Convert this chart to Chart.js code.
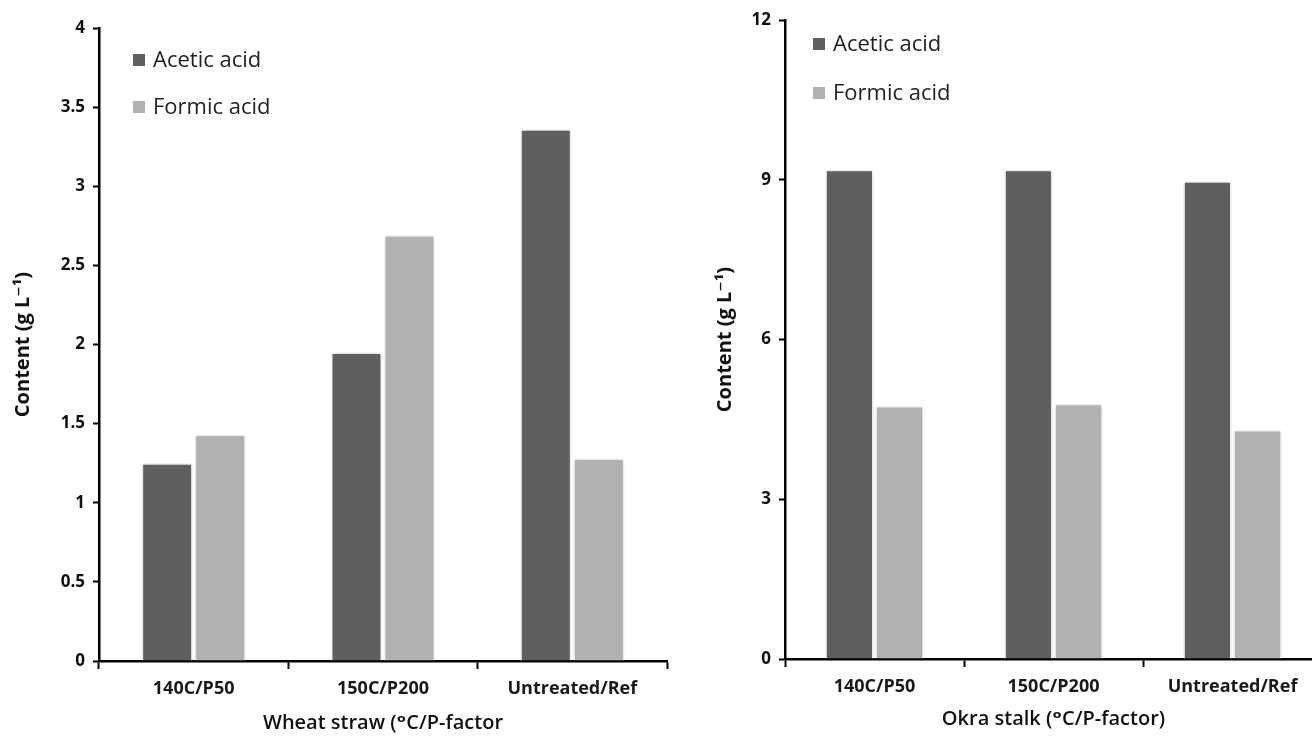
<!DOCTYPE html>
<html>
<head>
<meta charset="utf-8">
<script src="https://cdn.jsdelivr.net/npm/chart.js@4.4.1/dist/chart.umd.min.js"></script>
<style>
  html, body { margin: 0; padding: 0; background: #fff; overflow: hidden; }
  body { width: 1312px; height: 739px; position: relative; }
  .panel { position: absolute; top: 0; height: 739px; }
  #wheat-panel { left: 0; width: 690px; }
  #okra-panel { left: 700px; width: 640px; }
</style>
</head>
<body>
<div class="panel" id="wheat-panel"><canvas id="wheat-chart"></canvas></div>
<div class="panel" id="okra-panel"><canvas id="okra-chart"></canvas></div>
<script>
const wheatCanvas = document.getElementById("wheat-chart");
const okraCanvas = document.getElementById("okra-chart");

// treatments on the x axis (same for both panels)
const treatments = ["140C/P50", "150C/P200", "Untreated/Ref"];

// wheat straw, g/L
const wheatAcetic = [1.25, 1.95, 3.36];
const wheatFormic = [1.43, 2.69, 1.28];

// okra stalk, g/L
const okraAcetic = [9.19, 9.19, 8.97];
const okraFormic = [4.75, 4.79, 4.30];

// y axis ranges
const wheatMax = 4, wheatStep = 0.5;
const okraMax = 12, okraStep = 3;

const FONT = '"Open Sans", "DejaVu Sans", sans-serif';
const DARK = '#5f5f5f';
const LIGHT = '#b1b1b1';

Chart.defaults.font.family = FONT;
Chart.defaults.color = '#111';


// small key in the top left corner of the plot
const acidKey = {
  id: 'acidKey',
  afterDraw(chart, args, opts) {
    const ctx = chart.ctx;
    const area = chart.chartArea;
    ctx.save();
    ctx.font = '22px ' + FONT;
    ctx.textBaseline = 'middle';
    chart.data.datasets.forEach((ds, i) => {
      const x = area.left + opts.left;
      const y = area.top + opts.top + i * opts.gap;
      ctx.fillStyle = ds.backgroundColor;
      ctx.fillRect(x, y - 6, 12, 12);
      ctx.fillStyle = '#222';
      ctx.fillText(ds.label, x + 20, y + 1);
    });
    ctx.restore();
  }
};

// soft grey halo around the bars
const barHalo = {
  id: 'barHalo',
  beforeDatasetsDraw(chart) {
    const ctx = chart.ctx;
    ctx.save();
    ctx.shadowColor = 'rgba(0,0,0,0.22)';
    ctx.shadowBlur = 4;
  },
  afterDatasetsDraw(chart) {
    chart.ctx.restore();
  }
};


const makeChart = (canvas, p) => new Chart(canvas, {
  type: 'bar',
  data: {
    labels: treatments,
    datasets: [
      { label: 'Acetic acid', data: p.acetic, backgroundColor: DARK },
      { label: 'Formic acid', data: p.formic, backgroundColor: LIGHT }
    ].map(ds => Object.assign(ds, {
      borderColor: '#ffffff',
      borderWidth: 1.5,
      categoryPercentage: 0.56,
      barPercentage: 0.96
    }))
  },
  options: {
    responsive: true,
    maintainAspectRatio: false,
    animation: false,
    layout: { padding: { left: 0, right: p.padRight, top: p.padTop, bottom: 0 } },
    scales: {
      x: {
        offset: true,
        grid: { offset: true, drawOnChartArea: false, drawTicks: true, tickLength: 8, tickColor: '#000', tickWidth: 2 },
        border: { display: true, color: '#000', width: 2.5 },
        ticks: { color: '#1a1a1a', padding: 9, font: { size: 18, weight: 'bold' } },
        title: { display: true, text: p.xTitle, color: '#111', padding: { top: 0, bottom: p.xTitlePad }, font: { size: 20, weight: '600' } },
        afterFit: s => { s.height = p.xHeight; }
      },
      y: {
        min: 0,
        max: p.max,
        ticks: {
          stepSize: p.step, color: '#111', padding: 8,
          font: { size: 17, weight: 'bold' },
          callback: v => String(v)
        },
        grid: { drawOnChartArea: false, drawTicks: true, tickLength: 6, tickColor: '#000', tickWidth: 2 },
        border: { display: true, color: '#000', width: 2.5 },
        title: { display: true, text: 'Content (g L⁻¹)', color: '#111', padding: { top: p.yTitlePad }, font: { size: 20, weight: 'bold' } },
        afterFit: s => { s.width = p.yWidth; }
      }
    },
    plugins: {
      legend: { display: false },
      tooltip: { enabled: false },
      acidKey: p.key
    }
  },
  plugins: [barHalo, acidKey]
});


let wheatChart = makeChart(wheatCanvas, {
  acetic: wheatAcetic, formic: wheatFormic,
  max: wheatMax, step: wheatStep,
  xTitle: 'Wheat straw (ᵒC/P-factor',
  padTop: 28, padRight: 23, yWidth: 99, xHeight: 78,
  xTitlePad: 4, yTitlePad: 11,
  key: { left: 34, top: 32, gap: 47 }
});

let okraChart = makeChart(okraCanvas, {
  acetic: okraAcetic, formic: okraFormic,
  max: okraMax, step: okraStep,
  xTitle: 'Okra stalk (ᵒC/P-factor)',
  padTop: 20, padRight: 18, yWidth: 85, xHeight: 80,
  xTitlePad: 8, yTitlePad: 13,
  key: { left: 28, top: 24, gap: 49 }
});
</script>
</body>
</html>
